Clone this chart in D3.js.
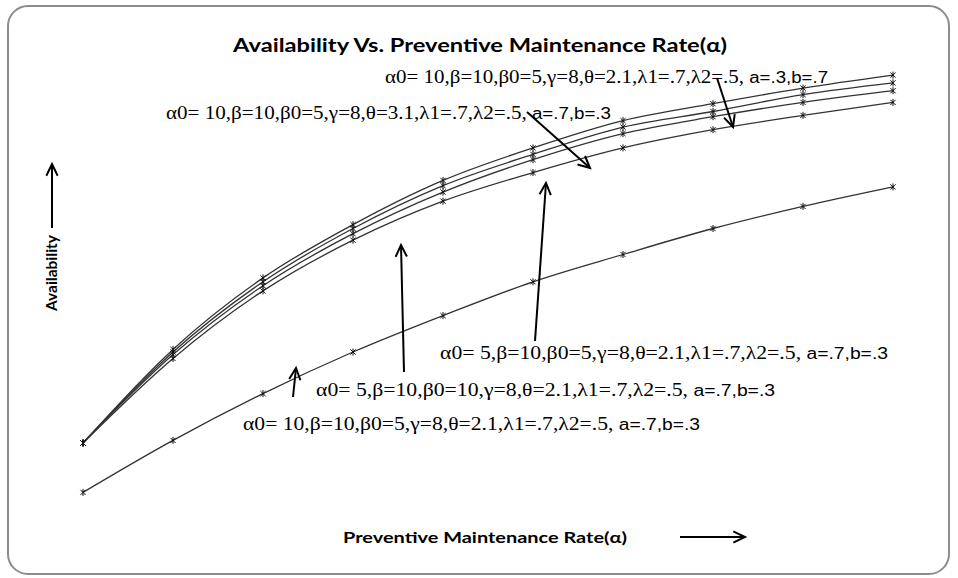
<!DOCTYPE html>
<html>
<head>
<meta charset="utf-8">
<script src="https://cdn.jsdelivr.net/npm/d3@7"></script>
<style>
  body { margin: 0; background: #fff; }
  svg { display: block; }
</style>
</head>
<body>
<div id="chart"></div>
<script>
// preventive maintenance rate steps (no tick labels in the original)
const steps = [1, 2, 3, 4, 5, 6, 7, 8, 9, 10];

// availability values
const seriesTop = [0.690, 0.762, 0.817, 0.858, 0.892, 0.917, 0.938, 0.951, 0.963, 0.973];
const seriesSecond = [0.690, 0.760, 0.814, 0.855, 0.888, 0.912, 0.933, 0.945, 0.958, 0.967];
const seriesThird = [0.690, 0.758, 0.811, 0.851, 0.883, 0.908, 0.928, 0.941, 0.952, 0.961];
const seriesFourth = [0.690, 0.755, 0.807, 0.846, 0.876, 0.898, 0.917, 0.931, 0.942, 0.952];
const seriesLow = [0.652, 0.692, 0.728, 0.760, 0.788, 0.814, 0.835, 0.855, 0.872, 0.887];

const allSeries = [seriesTop, seriesSecond, seriesThird, seriesFourth, seriesLow];

// annotation texts (serif part, sans part)
const labelTexts = [
    ["α0= 10,β=10,β0=5,γ=8,θ=2.1,λ1=.7,λ2=.5,", " a=.3,b=.7"],
    ["α0= 10,β=10,β0=5,γ=8,θ=3.1,λ1=.7,λ2=.5,", " a=.7,b=.3"],
    ["α0= 5,β=10,β0=5,γ=8,θ=2.1,λ1=.7,λ2=.5,", " a=.7,b=.3"],
    ["α0= 5,β=10,β0=10,γ=8,θ=2.1,λ1=.7,λ2=.5,", " a=.7,b=.3"],
    ["α0= 10,β=10,β0=5,γ=8,θ=2.1,λ1=.7,λ2=.5,", " a=.7,b=.3"]
];

const W = 958, H = 578;

const svg = d3.select("#chart")
    .append("svg")
    .attr("width", W)
    .attr("height", H);

// outer rounded frame
svg.append("rect")
    .attr("x", 8).attr("y", 6)
    .attr("width", 941).attr("height", 568)
    .attr("rx", 20).attr("ry", 20)
    .attr("fill", "#fff")
    .attr("stroke", "#8c8c8c")
    .attr("stroke-width", 2);

const x = d3.scaleLinear().domain([1, 10]).range([83, 893]);
const y = d3.scaleLinear().domain([0.6, 1.0]).range([560, 40]);

svg.append("text")
    .attr("x", 480).attr("y", 52)
    .attr("text-anchor", "middle")
    .attr("font-family", "Lato, 'Open Sans', sans-serif")
    .attr("font-weight", "bold")
    .attr("font-size", 19)
    .attr("textLength", 494)
    .attr("lengthAdjust", "spacingAndGlyphs")
    .text("Availability Vs. Preventive Maintenance Rate(α)");

const line = d3.line()
    .x((d, i) => x(steps[i]))
    .y(d => y(d))
    .curve(d3.curveMonotoneX);

svg.selectAll(".series")
    .data(allSeries)
    .join("path")
    .attr("class", "series")
    .attr("d", line)
    .attr("fill", "none")
    .attr("stroke", "#333")
    .attr("stroke-width", 1.3);

const star = "M-2.6,-2.6L2.6,2.6M-2.6,2.6L2.6,-2.6M0,-3.5L0,3.5";
allSeries.forEach(s => {
    svg.append("g")
        .selectAll("path")
        .data(s)
        .join("path")
        .attr("transform", (d, i) => `translate(${x(steps[i])},${y(d)})`)
        .attr("d", star)
        .attr("stroke", "#111")
        .attr("stroke-width", 1)
        .attr("fill", "none");
});

// label placement: [x, baseline, width]
const labelPos = [
    [385, 83, 443],
    [166, 119, 445],
    [440, 359, 448],
    [316, 396, 459],
    [243, 430, 457]
];

labelTexts.forEach((t, i) => {
    const p = labelPos[i];
    const txt = svg.append("text")
        .attr("x", p[0]).attr("y", p[1])
        .attr("font-size", 18)
        .attr("textLength", p[2])
        .attr("lengthAdjust", "spacingAndGlyphs");
    txt.append("tspan")
        .attr("font-family", "'Liberation Serif', 'DejaVu Serif', serif")
        .text(t[0]);
    txt.append("tspan")
        .attr("font-family", "'Liberation Sans', Arial, sans-serif")
        .attr("font-size", 16)
        .text(t[1]);
});

// arrows: [x1, y1, x2, y2] tip at (x2, y2)
const arrows = [
    [717, 78, 733, 127],
    [527, 112, 590, 168],
    [535, 341, 546, 183],
    [404, 372, 401, 245],
    [293, 397, 296, 368],
    [52, 228, 52, 164],
    [680, 537, 745, 537]
];

arrows.forEach(a => {
    const g = svg.append("g")
        .attr("stroke", "#000")
        .attr("stroke-width", 2)
        .attr("fill", "none");
    g.append("line")
        .attr("x1", a[0]).attr("y1", a[1])
        .attr("x2", a[2]).attr("y2", a[3]);
    const ang = Math.atan2(a[3] - a[1], a[2] - a[0]);
    const len = 13, spread = 0.45;
    const p1 = [a[2] - len * Math.cos(ang - spread), a[3] - len * Math.sin(ang - spread)];
    const p2 = [a[2] - len * Math.cos(ang + spread), a[3] - len * Math.sin(ang + spread)];
    g.append("path")
        .attr("d", `M${p1[0]},${p1[1]}L${a[2]},${a[3]}L${p2[0]},${p2[1]}`);
});

// axis titles
svg.append("text")
    .attr("transform", "translate(57,273) rotate(-90)")
    .attr("text-anchor", "middle")
    .attr("font-family", "Lato, 'Open Sans', sans-serif")
    .attr("font-weight", "bold")
    .attr("font-size", 15)
    .attr("textLength", 76)
    .attr("lengthAdjust", "spacingAndGlyphs")
    .text("Availability");

svg.append("text")
    .attr("x", 485).attr("y", 543)
    .attr("text-anchor", "middle")
    .attr("font-family", "Lato, 'Open Sans', sans-serif")
    .attr("font-weight", "bold")
    .attr("font-size", 15)
    .attr("textLength", 284)
    .attr("lengthAdjust", "spacingAndGlyphs")
    .text("Preventive Maintenance Rate(α)");
</script>
</body>
</html>
